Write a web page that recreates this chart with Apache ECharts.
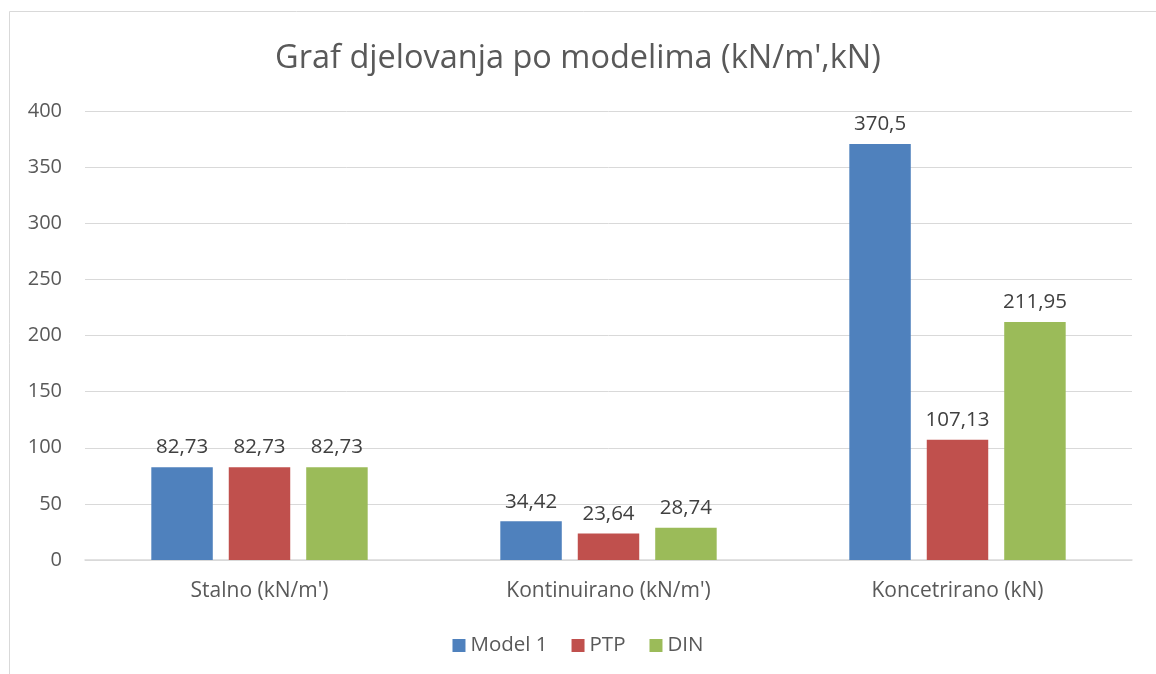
<!DOCTYPE html>
<html><head><meta charset="utf-8">
<script src="https://cdn.jsdelivr.net/npm/echarts@6/dist/echarts.min.js"></script>
<style>html,body{margin:0;padding:0;background:#fff}#c{width:1156px;height:674px}</style>
</head><body><div id="c"></div>
<script>
const categories = ["Stalno (kN/m')", "Kontinuirano (kN/m')", "Koncetrirano (kN)"];
const seriesNames = ["Model 1", "PTP", "DIN"];
const model1 = [82.73, 34.42, 370.5];
const ptp = [82.73, 23.64, 107.13];
const din = [82.73, 28.74, 211.95];
const colors = ["#4f81bd", "#c0504d", "#9bbb59"];
const FONT = "Open Sans";
const fmt = p => String(p.value).replace('.', ',');
const chart = echarts.init(document.getElementById('c'), null, {renderer: 'canvas'});
const mk = (name, data, color) => ({
  name, type: 'bar', data, barGap: '26%', barCategoryGap: '38%',
  itemStyle: {color},
  label: {show: true, position: 'top', distance: 9, formatter: fmt, color: '#404040', fontSize: 20.5, fontFamily: FONT}
});
chart.setOption({
  animation: false,
  textStyle: {fontFamily: FONT},
  graphic: [{type: 'rect', shape: {x: 9.5, y: 11.5, width: 1160, height: 700}, style: {fill: 'none', stroke: '#d9d9d9', lineWidth: 1}, silent: true}],
  title: {text: "Graf djelovanja po modelima (kN/m',kN)", left: 'center', top: 37,
    textStyle: {fontSize: 32.5, fontWeight: 'normal', color: '#595959', fontFamily: FONT}},
  legend: {bottom: 13, left: 'center', itemWidth: 13, itemHeight: 13, itemGap: 24,
    icon: 'rect', textStyle: {fontSize: 20.5, color: '#595959', fontFamily: FONT}},
  grid: {left: 85, right: 24, top: 111, bottom: 114, containLabel: false},
  xAxis: {type: 'category', data: categories,
    axisLine: {lineStyle: {color: '#d9d9d9', width: 1.5}}, axisTick: {show: false},
    axisLabel: {color: '#595959', fontSize: 21, margin: 21, fontFamily: FONT}},
  yAxis: {type: 'value', min: 0, max: 400, interval: 50,
    axisLine: {show: false}, axisTick: {show: false},
    splitLine: {lineStyle: {color: '#d9d9d9', width: 1}},
    axisLabel: {color: '#595959', fontSize: 20, margin: 23, fontFamily: FONT}},
  series: [mk(seriesNames[0], model1, colors[0]), mk(seriesNames[1], ptp, colors[1]), mk(seriesNames[2], din, colors[2])]
});
</script></body></html>
